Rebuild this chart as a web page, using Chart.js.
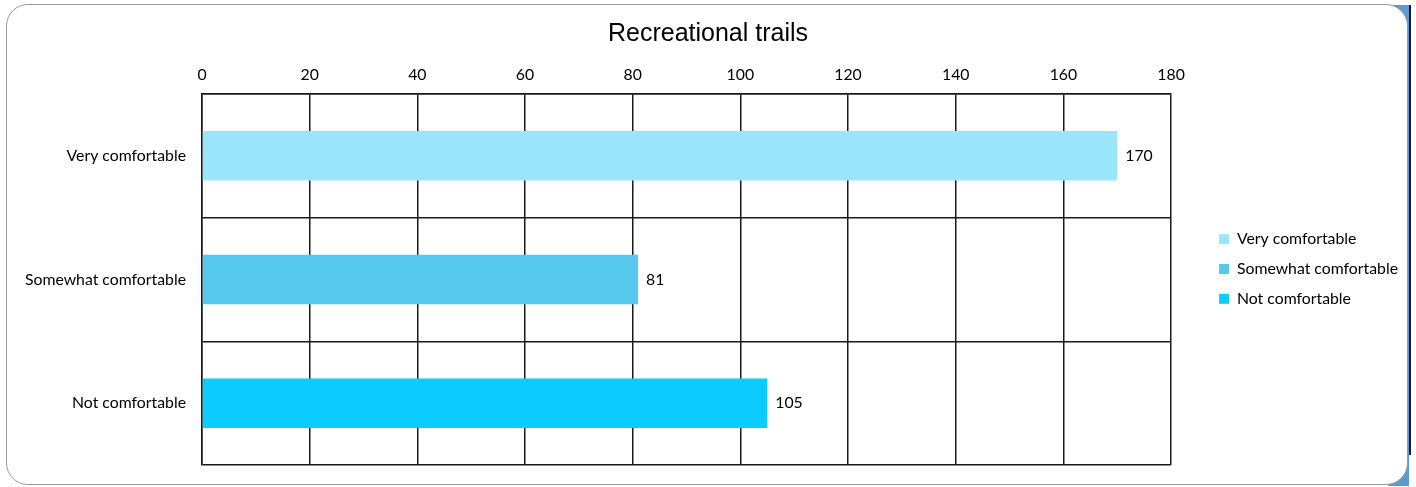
<!DOCTYPE html>
<html>
<head>
<meta charset="utf-8">
<script src="https://cdn.jsdelivr.net/npm/chart.js@4.4.1/dist/chart.umd.min.js"></script>
<style>
  html, body { margin: 0; padding: 0; background: #fff; }
  #wrap { position: relative; width: 1416px; height: 487px; }
  #corner {
    position: absolute; left: 1388px; top: 5px; width: 21px; height: 481px;
    background: #5b9bd5;
  }
  #edge {
    position: absolute; left: 1409px; top: 5px; width: 2px; height: 450px;
    background: #1c1c1c;
  }
  #frame {
    position: absolute; left: 6px; top: 4px; width: 1400px; height: 479px;
    border: 1px solid #9a9a9a; border-radius: 22px; background: #fff;
  }
  #chart { position: absolute; left: 0; top: 0; }
</style>
</head>
<body>
<div id="wrap">
  <div id="corner"></div>
  <div id="edge"></div>
  <div id="frame"></div>
  <canvas id="chart" width="1416" height="487"></canvas>
</div>
<script>
// ---- Data ----
const categories = ["Very comfortable", "Somewhat comfortable", "Not comfortable"];
const responses = [170, 81, 105];
const barColors = ["#9be5fc", "#57c8ee", "#0bcbff"];
const xTicks = [0, 20, 40, 60, 80, 100, 120, 140, 160, 180];

const labelFont = { family: "Lato, 'Open Sans', sans-serif", size: 15.8 };

// value labels at the end of each bar
const valueLabels = {
    id: "valueLabels",
    afterDatasetsDraw(chart) {
        const ctx = chart.ctx;
        const meta = chart.getDatasetMeta(0);
        ctx.save();
        ctx.font = `${labelFont.size}px ${labelFont.family}`;
        ctx.fillStyle = "#000";
        ctx.textAlign = "left";
        ctx.textBaseline = "middle";
        meta.data.forEach((bar, i) => {
            ctx.fillText(String(responses[i]), bar.x + 8, bar.y);
        });
        ctx.restore();
    },
};

const ctx = document.getElementById("chart").getContext("2d");
new Chart(ctx, {
    type: "bar",
    data: {
        labels: categories,
        datasets: [{
            data: responses,
            backgroundColor: barColors,
            borderWidth: 0,
            categoryPercentage: 1,
            barPercentage: 0.4,
        }],
    },
    options: {
        indexAxis: "y",
        responsive: false,
        animation: false,
        layout: { padding: { left: 8, right: 8, top: 14, bottom: 22 } },
        plugins: {
            title: {
                display: true,
                text: "Recreational trails",
                color: "#000",
                font: { family: "'Liberation Sans', Arial, sans-serif", size: 25, weight: "normal" },
                padding: { top: 5, bottom: 6 },
            },
            legend: {
                position: "right",
                title: { display: true, text: " ", font: { size: 10 }, padding: { top: 23, bottom: 24 } },
                labels: {
                    color: "#000",
                    font: labelFont,
                    boxWidth: 10,
                    boxHeight: 10,
                    padding: 14,
                    generateLabels: () => categories.map((c, i) => ({
                        text: c,
                        fillStyle: barColors[i],
                        strokeStyle: barColors[i],
                        lineWidth: 0,
                        fontColor: "#000",
                        index: i,
                    })),
                },
                onClick: null,
            },
            tooltip: { enabled: false },
        },
        scales: {
            x: {
                position: "top",
                min: 0,
                max: 180,
                afterBuildTicks: (axis) => { axis.ticks = xTicks.map((v) => ({ value: v })); },
                ticks: { color: "#000", font: labelFont, padding: 10 },
                grid: { color: "#1a1a1a", lineWidth: 1.5, drawTicks: false },
                border: { color: "#1a1a1a", width: 1.5 },
            },
            y: {
                afterFit: (axis) => {
                    axis.width = 194;
                    axis.paddingTop = 0;
                    axis.paddingBottom = 0;
                },
                ticks: { color: "#000", font: labelFont, padding: 16 },
                grid: { color: "#1a1a1a", lineWidth: 1.5, drawTicks: false },
                border: { color: "#1a1a1a", width: 1.5 },
            },
            // empty spacer between plot and legend
            gap: {
                type: "linear",
                position: "right",
                afterFit: (axis) => { axis.width = 34; },
                ticks: { display: false },
                grid: { display: false, drawTicks: false },
                border: { display: false },
            },
        },
    },
    plugins: [valueLabels],
});
</script>
</body>
</html>
